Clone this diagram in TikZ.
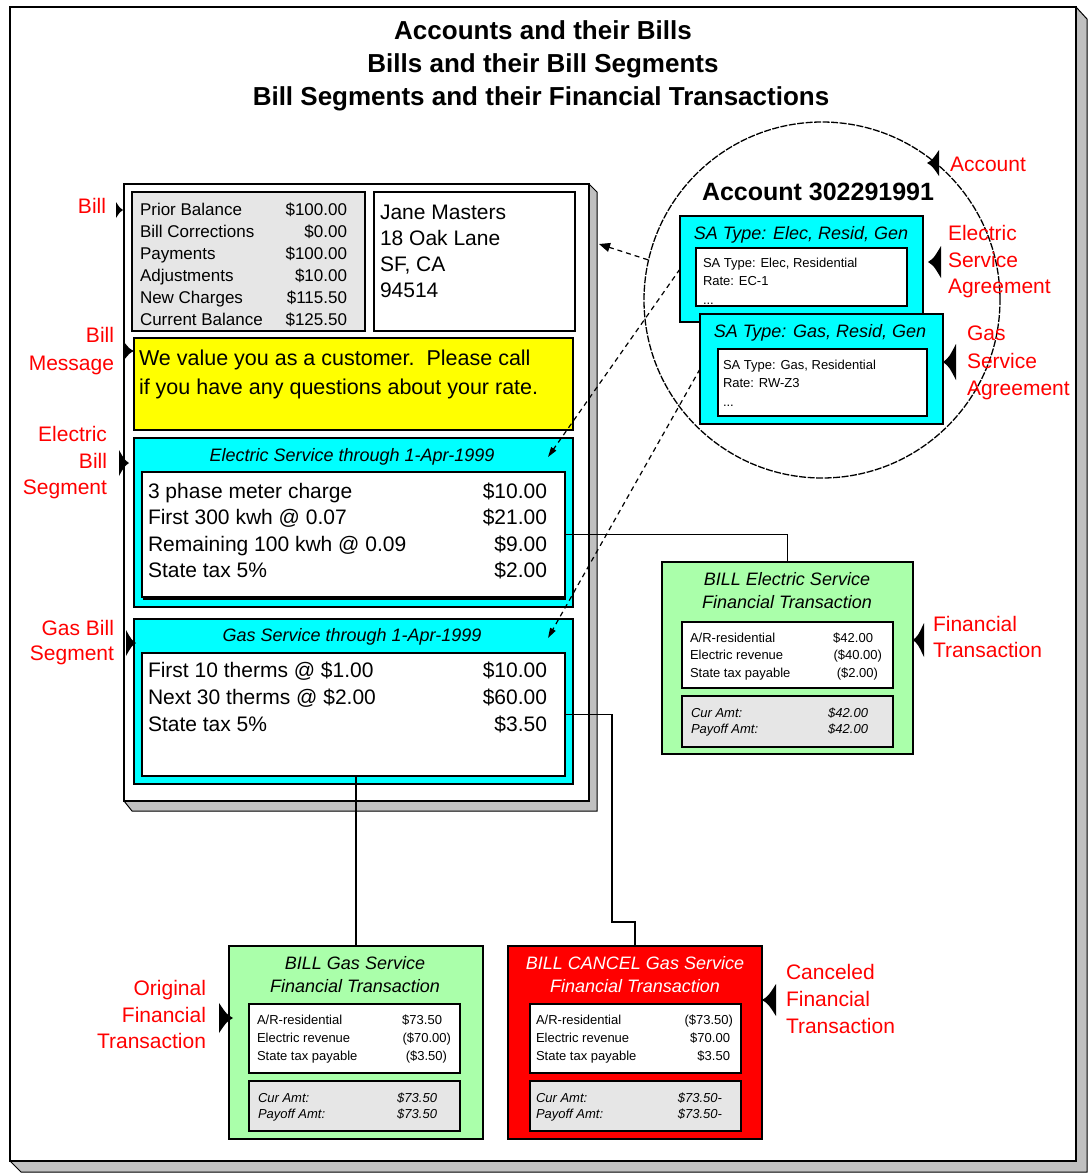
\documentclass[tikz,border=0pt]{standalone}
\usepackage{fontspec}
\setmainfont{Liberation Sans}
\usetikzlibrary{arrows.meta,shadows}
\definecolor{cyanbox}{HTML}{00FFFF}
\definecolor{greenbox}{HTML}{AAFFAA}
\definecolor{graybox}{HTML}{E6E6E6}
\definecolor{shadegray}{HTML}{C0C0C0}
\definecolor{redbox}{HTML}{FF0000}
\definecolor{yellowbox}{HTML}{FFFF00}
\definecolor{lblred}{HTML}{FF0000}
\newcommand\myfs[1]{\fontsize{#1}{#1}\selectfont}
\tikzset{
  box/.style={draw=black, line width=1.1pt, anchor=north west, inner sep=0pt, outer sep=0pt},
  txt/.style={inner sep=0pt, outer sep=0pt},
  titletxt/.style={txt, font=\myfs{26}\bfseries, anchor=base},
  baltxt/.style={txt, font=\myfs{17}},
  addrtxt/.style={txt, font=\myfs{21}, anchor=base west},
  msgtxt/.style={txt, font=\myfs{21.5}, anchor=base west},
  segtitle/.style={txt, font=\myfs{18}\itshape, anchor=base},
  segtxt/.style={txt, font=\myfs{21}},
  satitle/.style={txt, font=\myfs{18}\itshape, anchor=base},
  satxt/.style={txt, font=\myfs{13}, anchor=base west},
  fttitle/.style={txt, font=\myfs{18}\itshape, anchor=base},
  fttxt/.style={txt, font=\myfs{13}},
  ftsum/.style={txt, font=\myfs{13}\itshape},
  lbl/.style={txt, font=\myfs{21}, text=lblred},
  conn/.style={draw=black, line width=1.2pt},
  dashconn/.style={draw=black, line width=1.2pt, dash pattern=on 5pt off 4pt},
  pics/ptr/.style n args={2}{code={\fill[black] (0,0) .. controls (-0.45*#1,-0.25*#2) .. (-#1,-#2) -- (-#1,#2) .. controls (-0.45*#1,0.25*#2) .. (0,0) -- cycle;}},
}
\begin{document}
\begin{tikzpicture}[x=1pt,y=-1pt]
\useasboundingbox (0,0) rectangle (1089,1173);
% outer frame
\fill[shadegray, draw=black, line width=1pt] (1076,7) -- (1087,19) -- (1087,1172) -- (21,1172) -- (10,1161) -- cycle;
\node[box, fill=white, minimum width=1066, minimum height=1154] (frame) at (10,7) {};

% titles
\node[titletxt] (t1) at (543,39) {Accounts and their Bills};
\node[titletxt] (t2) at (543,72) {Bills and their Bill Segments};
\node[titletxt] (t3) at (541,105) {Bill Segments and their Financial Transactions};

% bill
\fill[shadegray, draw=black, line width=1pt] (589,184) -- (597,192) -- (597,811) -- (132,811) -- (124,801) -- cycle;
\node[box, fill=white, minimum width=465, minimum height=617] (bill) at (124,184) {};
\node[box, fill=graybox, minimum width=233, minimum height=139] (bal) at (132,192) {};
\node[box, fill=white, minimum width=201, minimum height=139] (addr) at (374,192) {};
\node[box, fill=yellowbox, minimum width=439, minimum height=92] (msg) at (134,338) {};
\node[box, fill=cyanbox, minimum width=439, minimum height=169] (eSeg) at (134,438) {};
\node[box, fill=white, minimum width=423, minimum height=125, drop shadow={shadow xshift=1pt, shadow yshift=-3pt, fill=black, opacity=1}] (eInner) at (142,472) {};
\node[box, fill=cyanbox, minimum width=439, minimum height=165] (gSeg) at (134,619) {};
\node[box, fill=white, minimum width=423, minimum height=123] (gInner) at (142,653) {};

% balance rows
\foreach \yy/\ll/\vv [count=\i] in {215/Prior Balance/\$100.00, 237/Bill Corrections/\$0.00, 259/Payments/\$100.00, 281/Adjustments/\$10.00, 303/New Charges/\$115.50, 325/Current Balance/\$125.50} {
  \node[baltxt, anchor=base west] (balL\i) at (140,\yy) {\ll};
  \node[baltxt, anchor=base east] (balV\i) at (347,\yy) {\vv};
}
% address
\node[addrtxt] (ad1) at (380,219.5) {Jane Masters};
\node[addrtxt] (ad2) at (380,245.5) {18 Oak Lane};
\node[addrtxt] (ad3) at (380,271.5) {SF, CA};
\node[addrtxt] (ad4) at (380,297.5) {94514};
% message
\node[msgtxt] (m1) at (139,365) {We value you as a customer.\ \ Please call};
\node[msgtxt] (m2) at (139,394) {if you have any questions about your rate.};
% segments
\node[segtitle] (eT) at (352,461) {Electric Service through 1-Apr-1999};
\node[segtitle] (gT) at (352,641) {Gas Service through 1-Apr-1999};
\foreach \yy/\ll/\vv [count=\i] in {498/3 phase meter charge/\$10.00, 524.5/First 300 kwh @ 0.07/\$21.00, 551/Remaining 100 kwh @ 0.09/\$9.00, 577/State tax 5\%/\$2.00} {
  \node[segtxt, anchor=base west] (eL\i) at (148,\yy) {\ll};
  \node[segtxt, anchor=base east] (eV\i) at (547,\yy) {\vv};
}
\foreach \yy/\ll/\vv [count=\i] in {677/First 10 therms @ \$1.00/\$10.00, 704/Next 30 therms @ \$2.00/\$60.00, 731/State tax 5\%/\$3.50} {
  \node[segtxt, anchor=base west] (gL\i) at (148,\yy) {\ll};
  \node[segtxt, anchor=base east] (gV\i) at (547,\yy) {\vv};
}

% account circle
\node[draw=black, circle, minimum size=356pt, inner sep=0pt, line width=1.3pt, dash pattern=on 7pt off 1.5pt] (acct) at (822,300) {};
\node[txt, font=\myfs{25}\bfseries, anchor=base west] (acctT) at (702,200) {Account 302291991};
\node[box, fill=cyanbox, minimum width=243, minimum height=106] (eSA) at (680,216) {};
\node[satitle] (eSAT) at (801,239) {SA Type: Elec, Resid, Gen};
\node[box, fill=white, minimum width=211, minimum height=58] (eSAin) at (696,248) {};
\node[satxt] (eSA1) at (703,267) {SA Type: Elec, Residential};
\node[satxt] (eSA2) at (703,285) {Rate: EC-1};
\node[satxt] (eSA3) at (703,304) {...};
\node[box, fill=cyanbox, minimum width=243, minimum height=110] (gSA) at (700,314) {};
\node[satitle] (gSAT) at (820,337) {SA Type: Gas, Resid, Gen};
\node[box, fill=white, minimum width=209, minimum height=67] (gSAin) at (718,349) {};
\node[satxt] (gSA1) at (723,369) {SA Type: Gas, Residential};
\node[satxt] (gSA2) at (723,387) {Rate: RW-Z3};
\node[satxt] (gSA3) at (723,406) {...};

% electric FT
\node[box, fill=greenbox, minimum width=251, minimum height=192] (ftE) at (662,562) {};
\node[fttitle] (ftET1) at (787,585) {BILL Electric Service};
\node[fttitle] (ftET2) at (787,608) {Financial Transaction};
\node[box, fill=white, minimum width=211, minimum height=66] (ftEin) at (682,622) {};
\node[box, fill=graybox, minimum width=211, minimum height=51] (ftEsum) at (682,696) {};
\node[fttxt, anchor=base west] (ftEL1) at (690,642) {A/R-residential};
\node[fttxt, anchor=base west] (ftEL2) at (690,659) {Electric revenue};
\node[fttxt, anchor=base west] (ftEL3) at (690,677) {State tax payable};
\node[fttxt, anchor=base east] (ftEV1) at (873,642) {\$42.00};
\node[fttxt, anchor=base east] (ftEV2) at (882,659) {(\$40.00)};
\node[fttxt, anchor=base east] (ftEV3) at (878,677) {(\$2.00)};
\node[ftsum, anchor=base west] (ftES1) at (691,717) {Cur Amt:};
\node[ftsum, anchor=base west] (ftES2) at (691,733) {Payoff Amt:};
\node[ftsum, anchor=base east] (ftES3) at (868,717) {\$42.00};
\node[ftsum, anchor=base east] (ftES4) at (868,733) {\$42.00};

% original FT
\node[box, fill=greenbox, minimum width=254, minimum height=193] (ftO) at (229,946) {};
\node[fttitle] (ftOT1) at (355,969) {BILL Gas Service};
\node[fttitle] (ftOT2) at (355,992) {Financial Transaction};
\node[box, fill=white, minimum width=211, minimum height=69] (ftOin) at (249,1004) {};
\node[box, fill=graybox, minimum width=211, minimum height=50] (ftOsum) at (249,1081) {};
\node[fttxt, anchor=base west] (ftOL1) at (257,1024) {A/R-residential};
\node[fttxt, anchor=base west] (ftOL2) at (257,1042) {Electric revenue};
\node[fttxt, anchor=base west] (ftOL3) at (257,1060) {State tax payable};
\node[fttxt, anchor=base east] (ftOV1) at (442,1024) {\$73.50};
\node[fttxt, anchor=base east] (ftOV2) at (451,1042) {(\$70.00)};
\node[fttxt, anchor=base east] (ftOV3) at (447,1060) {(\$3.50)};
\node[ftsum, anchor=base west] (ftOS1) at (258,1102) {Cur Amt:};
\node[ftsum, anchor=base west] (ftOS2) at (258,1118) {Payoff Amt:};
\node[ftsum, anchor=base east] (ftOS3) at (437,1102) {\$73.50};
\node[ftsum, anchor=base east] (ftOS4) at (437,1118) {\$73.50};

% cancel FT
\node[box, fill=redbox, minimum width=254, minimum height=193] (ftC) at (508,946) {};
\node[fttitle, text=white] (ftCT1) at (635,969) {BILL CANCEL Gas Service};
\node[fttitle, text=white] (ftCT2) at (635,992) {Financial Transaction};
\node[box, fill=white, minimum width=211, minimum height=69] (ftCin) at (530,1004) {};
\node[box, fill=graybox, minimum width=211, minimum height=50] (ftCsum) at (530,1081) {};
\node[fttxt, anchor=base west] (ftCL1) at (536,1024) {A/R-residential};
\node[fttxt, anchor=base west] (ftCL2) at (536,1042) {Electric revenue};
\node[fttxt, anchor=base west] (ftCL3) at (536,1060) {State tax payable};
\node[fttxt, anchor=base east] (ftCV1) at (733,1024) {(\$73.50)};
\node[fttxt, anchor=base east] (ftCV2) at (730,1042) {\$70.00};
\node[fttxt, anchor=base east] (ftCV3) at (730,1060) {\$3.50};
\node[ftsum, anchor=base west] (ftCS1) at (536,1102) {Cur Amt:};
\node[ftsum, anchor=base west] (ftCS2) at (536,1118) {Payoff Amt:};
\node[ftsum, anchor=base east] (ftCS3) at (722,1102) {\$73.50-};
\node[ftsum, anchor=base east] (ftCS4) at (722,1118) {\$73.50-};

% connectors
\draw[conn] (eInner.east) -| (ftE.north);
\coordinate (gBend) at (612,922);
\draw[conn] (gInner.east) -| (gBend) -| (ftC.north);
\draw[conn] (gInner.south -| ftO.north) -- (ftO.north);
\coordinate (billTip) at (599,244);
\coordinate (eTip) at (548,457);
\coordinate (gTip) at (548,638);
\draw[dashconn, -{Triangle[length=11pt,width=9pt]}] (acct.167) -- (billTip);
\draw[dashconn, -{Triangle[length=10pt,width=6pt]}] (eSA.west) -- (eTip);
\draw[dashconn, -{Triangle[length=10pt,width=6pt]}] (gSA.west) -- (gTip);

% red labels
\node[lbl, anchor=base east] (lBill) at (106,213) {Bill};
\node[lbl, anchor=base east] (lMsg1) at (114,342) {Bill};
\node[lbl, anchor=base east] (lMsg2) at (114,370) {Message};
\node[lbl, anchor=base east] (lES1) at (107,441) {Electric};
\node[lbl, anchor=base east] (lES2) at (107,468) {Bill};
\node[lbl, anchor=base east] (lES3) at (107,494) {Segment};
\node[lbl, anchor=base east] (lGS1) at (114,635) {Gas Bill};
\node[lbl, anchor=base east] (lGS2) at (114,660) {Segment};
\node[lbl, anchor=base east] (lOF1) at (206,995) {Original};
\node[lbl, anchor=base east] (lOF2) at (206,1022) {Financial};
\node[lbl, anchor=base east] (lOF3) at (206,1048) {Transaction};
\node[lbl, anchor=base west] (lAcc) at (950,171) {Account};
\node[lbl, anchor=base west] (lESA1) at (948,240) {Electric};
\node[lbl, anchor=base west] (lESA2) at (948,267) {Service};
\node[lbl, anchor=base west] (lESA3) at (948,293) {Agreement};
\node[lbl, anchor=base west] (lGSA1) at (967,340) {Gas};
\node[lbl, anchor=base west] (lGSA2) at (967,368) {Service};
\node[lbl, anchor=base west] (lGSA3) at (967,395) {Agreement};
\node[lbl, anchor=base west] (lFT1) at (933,631) {Financial};
\node[lbl, anchor=base west] (lFT2) at (933,657) {Transaction};
\node[lbl, anchor=base west] (lCF1) at (786,979) {Canceled};
\node[lbl, anchor=base west] (lCF2) at (786,1006) {Financial};
\node[lbl, anchor=base west] (lCF3) at (786,1033) {Transaction};

% pointers
\pic at (123,210) {ptr={7}{8}};
\pic at (134,351) {ptr={10}{9}};
\pic at (129,463) {ptr={10}{13}};
\pic at (136,643) {ptr={10}{13}};
\pic at (233,1018) {ptr={14}{15}};
\pic[rotate=180] at (927,163) {ptr={12}{13}};
\pic[rotate=180] at (928,262) {ptr={13}{16}};
\pic[rotate=180] at (943,362) {ptr={13}{18}};
\pic[rotate=180] at (913,640) {ptr={11}{17}};
\pic[rotate=180] at (762,1000) {ptr={14}{16}};
\end{tikzpicture}
\end{document}
